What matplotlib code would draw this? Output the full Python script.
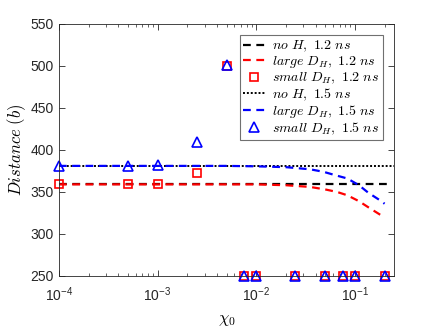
import numpy as np
import matplotlib
matplotlib.use("Agg")
import matplotlib.pyplot as plt
from matplotlib.ticker import LogLocator, NullFormatter

plt.rcParams['font.family'] = ['Liberation Sans', 'DejaVu Sans']
plt.rcParams['mathtext.fontset'] = 'cm'

# small D_H runs (markers)
chi_small = [1e-4, 5e-4, 1e-3, 2.5e-3, 5e-3, 7.5e-3, 1e-2, 2.5e-2, 5e-2, 7.5e-2, 1e-1, 2e-1]
dist_small_12 = [359, 359, 359, 373, 500, 250, 250, 250, 250, 250, 250, 250]
dist_small_15 = [381, 381, 382, 409, 501, 250, 250, 250, 250, 250, 250, 250]

# no H reference levels
chi_noH = [1e-4, 0.22]
dist_noH_12 = [359, 359]
chi_noH_15 = [1e-4, 0.25]
dist_noH_15 = [381, 381]

# large D_H curves
chi_large_12 = [1e-4, 1e-3, 5e-3, 1e-2, 2e-2, 3.5e-2, 5e-2, 6.6e-2, 8.4e-2, 0.11, 0.14, 0.18, 0.2]
dist_large_12 = [359, 359, 359, 359, 358, 356, 353, 350, 346, 339, 331, 323, 320]
chi_large_15 = [1e-4, 1e-3, 5e-3, 1e-2, 2e-2, 3.5e-2, 4.8e-2, 6.3e-2, 8.4e-2, 0.11, 0.137, 0.18, 0.2]
dist_large_15 = [381, 381, 381, 380.5, 379.5, 377, 374, 370, 366, 358, 349, 340, 336]

fig = plt.figure(figsize=(4.36, 3.27), dpi=100)
ax = fig.add_axes([0.135, 0.156, 0.769, 0.771])

ax.plot(chi_noH, dist_noH_12, color='black', ls=(0, (3.5, 2.5)), lw=1.6, label=r'$no\ H,\ 1.2\ ns$')
ax.plot(chi_large_12, dist_large_12, color='red', ls=(0, (3.5, 2.5)), lw=1.6, label=r'$large\ D_H,\ 1.2\ ns$')
ax.plot(chi_small, dist_small_12, ls='none', marker='s', ms=6, mfc='none', mec='red', mew=1.2,
        clip_on=False, label=r'$small\ D_H,\ 1.2\ ns$')
ax.plot(chi_noH_15, dist_noH_15, color='black', ls=(0, (1, 1)), lw=1.4, label=r'$no\ H,\ 1.5\ ns$')
ax.plot(chi_large_15, dist_large_15, color='blue', ls=(0, (3.5, 2.5)), lw=1.6, label=r'$large\ D_H,\ 1.5\ ns$')
ax.plot(chi_small, dist_small_15, ls='none', marker='^', ms=6.5, mfc='none', mec='blue', mew=1.2,
        clip_on=False, label=r'$small\ D_H,\ 1.5\ ns$')

ax.set_xscale('log')
ax.set_xlim(1e-4, 0.25)
ax.set_ylim(250, 550)
ax.set_yticks(np.arange(250, 551, 50))
ax.xaxis.set_minor_locator(LogLocator(base=10, subs=np.arange(2, 10), numticks=20))
ax.xaxis.set_minor_formatter(NullFormatter())

axis_col = '#262626'
for s in ax.spines.values():
    s.set_color(axis_col)
    s.set_linewidth(0.6)
ax.tick_params(which='both', direction='in', top=True, right=True, colors=axis_col, labelsize=10)
ax.tick_params(which='major', length=4, width=0.6)
ax.tick_params(which='minor', length=2, width=0.5)
ax.tick_params(axis='x', pad=7)

ax.set_xlabel(r'$\chi_0$', fontsize=12, labelpad=6)
ax.set_ylabel(r'$Distance\ (b)$', fontsize=12, labelpad=2)

leg = ax.legend(loc='upper right', fontsize=10, fancybox=False, framealpha=1, edgecolor='#707070',
                handlelength=1.6, handletextpad=0.5, borderpad=0.25, labelspacing=0.02,
                borderaxespad=0.8)
leg.get_frame().set_linewidth(0.8)

fig.savefig('out.png', dpi=100)
